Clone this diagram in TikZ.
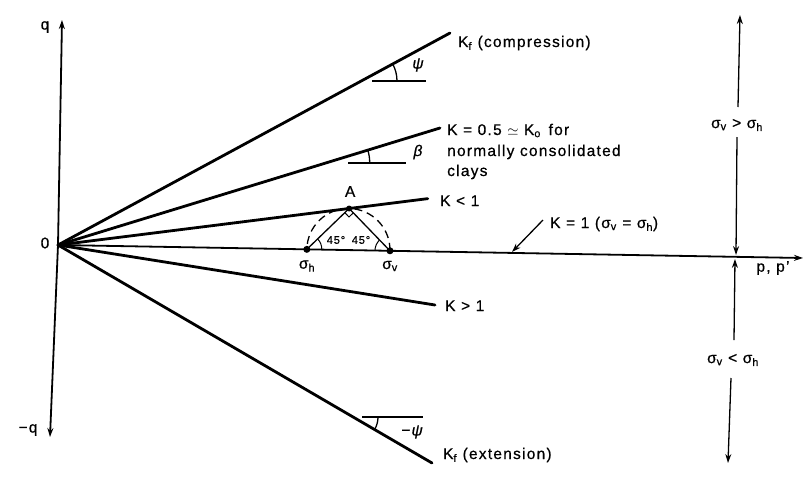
\documentclass[tikz,border=0pt]{standalone}
\usepackage{fontspec}
\setmainfont{Liberation Sans}[LetterSpace=8,FakeBold=0.6]
\usetikzlibrary{arrows.meta,calc}
\newcommand\sbs[1]{\textsubscript{#1}}
\begin{document}
\begin{tikzpicture}[x=1pt,y=1pt,
  kline/.style={line width=2.8pt, line cap=round},
  axisline/.style={line width=1.8pt},
  thinline/.style={line width=1.3pt},
  tipa/.style={-{Stealth[length=9pt,width=6pt]}},
  lbl/.style={font=\fontsize{15.5}{18}\selectfont, inner sep=0pt},
  smalllbl/.style={font=\fontsize{11}{13}\selectfont, inner sep=0pt},
  dot/.style={circle, fill, inner sep=0pt, minimum size=7pt}]
\useasboundingbox (0,0) rectangle (807,-483);
% axes
\coordinate (O) at (58,-245);
\coordinate (qt) at (62,-20);
\coordinate (qb) at (50,-437);
\coordinate (pt) at (803,-258);
\draw[axisline,tipa] (O) -- (qt);
\draw[axisline,tipa] (O) -- (qb);
\draw[axisline,tipa] (O) -- (pt);
\node[lbl] (qlbl) at (45,-27) {q};
\node[lbl] (mqlbl) at (28,-430) {−q};
\node[lbl] (olbl) at (45,-243) {0};
\node[lbl] (plbl) at (773,-268) {p, p'};
% Mohr construction
\coordinate (sh) at ($(O)!0.334!(pt)$);
\coordinate (sv) at ($(O)!0.4456!(pt)$);
\coordinate (c) at ($(sh)!0.5!(sv)$);
\coordinate (A) at ($(c)!1!90:(sv)$);
% K lines
\coordinate (kc) at (450,-33);
\coordinate (k05) at (440,-128);
\coordinate (kl1) at ($(O)!1.27!(A)$);
\coordinate (kg1) at (435,-305);
\coordinate (ke) at (432,-463);
\draw[kline] (O) -- (kc);
\draw[kline] (O) -- (k05);
\draw[kline] (O) -- (kl1);
\draw[kline] (O) -- (kg1);
\draw[kline] (O) -- (ke);
% angle markers
\draw[thinline] (372,-81) -- (426,-81);
\draw[thinline] (397,-81) arc[start angle=0, end angle=28.4, radius=36];
\node[lbl,font=\fontsize{15.5}{18}\itshape] (psilbl) at (418,-65) {ψ};
\draw[thinline] (348,-163) -- (406,-163);
\draw[thinline] (369.7,-162.7) arc[start angle=0, end angle=17, radius=43];
\node[lbl,font=\fontsize{15.5}{18}\itshape] (betalbl) at (418,-152) {β};
\draw[thinline] (362,-417) -- (423,-417);
\draw[thinline] (378,-417) arc[start angle=0, end angle=-30.2, radius=25];
\node[lbl,font=\fontsize{15.5}{18}\itshape] (mpsilbl) at (412,-432) {−ψ};
% triangle and circle
\draw[thinline] (sh) -- (A) -- (sv);
\draw[thinline, dashed, dash pattern=on 8pt off 5pt]
  let \p1=($(sv)-(c)$), \n1={veclen(\x1,\y1)}, \n2={atan2(\y1,\x1)} in
  (sv) arc[start angle=\n2, delta angle=180, radius=\n1];
\coordinate (m1) at ($(A)!6pt!(sh)$);
\coordinate (m2) at ($(A)!6pt!(sv)$);
\draw[line width=1pt] (m1) -- ($(m1)+(m2)-(A)$) -- (m2);
\draw[line width=1pt] ([shift={(-1:15)}]sh) arc[start angle=-1, end angle=44, radius=15];
\draw[line width=1pt] ([shift={(179:15)}]sv) arc[start angle=179, end angle=136, radius=15];
\node[dot] (shdot) at (sh) {};
\node[dot] (svdot) at (sv) {};
\node[dot,minimum size=6pt] (adot) at (A) {};
\node[lbl] (alab) at ($(A)+(1,17)$) {A};
\node[lbl] (shlab) at (307,-266) {σ\sbs{h}};
\node[lbl] (svlab) at (390,-266) {σ\sbs{v}};
\node[smalllbl] (a1lab) at (336,-240) {45°};
\node[smalllbl] (a2lab) at (361,-240) {45°};
% line labels
\node[lbl,anchor=base west] (kclbl) at (458,-47) {K\sbs{f} (compression)};
\node[lbl,anchor=base west] (k05lbl) at (447,-135) {K = 0.5 $\simeq$ K\sbs{o}\enspace for};
\node[lbl,anchor=base west] (k05lblb) at (447,-156) {normally consolidated};
\node[lbl,anchor=base west] (k05lblc) at (447,-176) {clays};
\node[lbl,anchor=base west] (kl1lbl) at (440,-206) {K < 1};
\node[lbl,anchor=base west] (k1lbl) at (550,-228) {K = 1 (σ\sbs{v} = σ\sbs{h})};
\node[lbl,anchor=base west] (kg1lbl) at (445,-311) {K > 1};
\node[lbl,anchor=base west] (kelbl) at (443,-459) {K\sbs{f} (extension)};
\coordinate (ld) at (543,-220);
\coordinate (lt) at (512,-252);
\draw[thinline,tipa] (ld) -- (lt);
% right-hand arrows
\node[lbl] (gtlbl) at (737,-125) {σ\sbs{v} > σ\sbs{h}};
\node[lbl] (ltlbl) at (733,-360) {σ\sbs{v} < σ\sbs{h}};
\coordinate (u1) at (738,-107);
\coordinate (u2) at (740,-15);
\coordinate (u3) at (737,-137);
\coordinate (u4) at (736,-255);
\coordinate (w1) at (734,-340);
\coordinate (w2) at (735,-259);
\coordinate (w3) at (731,-378);
\coordinate (w4) at (728,-463);
\draw[thinline,tipa] (u1) -- (u2);
\draw[thinline,tipa] (u3) -- (u4);
\draw[thinline,tipa] (w1) -- (w2);
\draw[thinline,tipa] (w3) -- (w4);
\end{tikzpicture}
\end{document}
